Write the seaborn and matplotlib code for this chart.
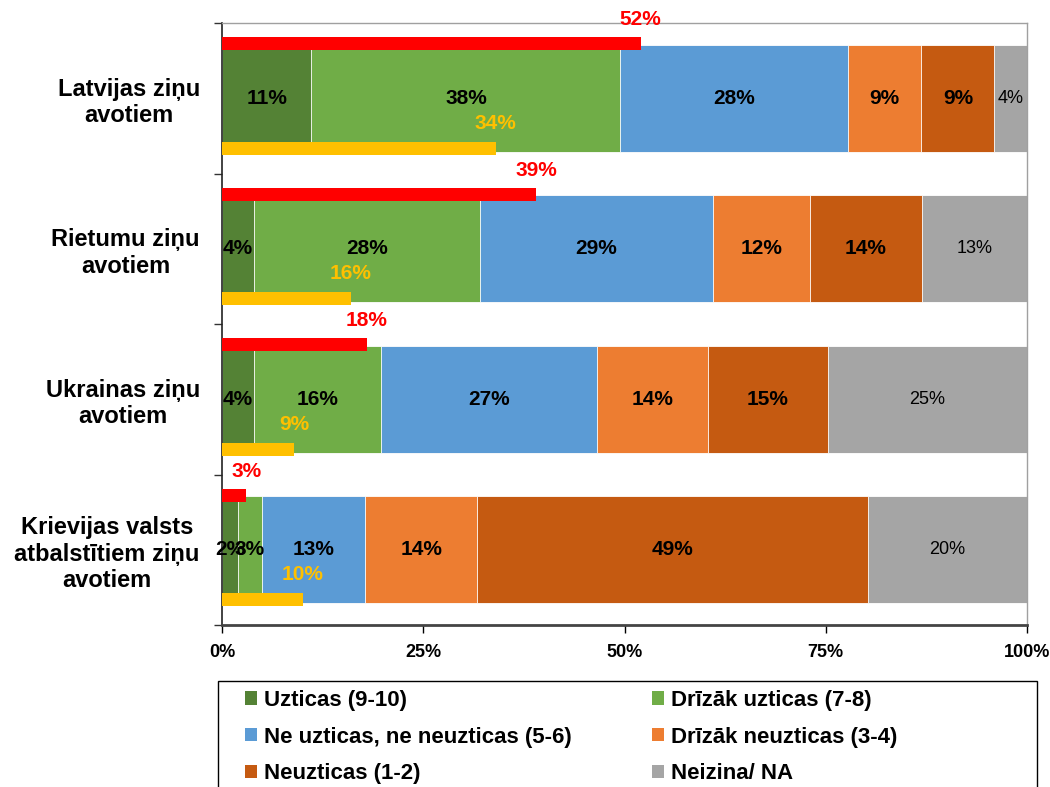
import numpy as np
import pandas as pd
import seaborn as sns
import matplotlib.pyplot as plt
from matplotlib.patches import Patch, Rectangle

# Data (percent)
sources = ["Latvijas ziņu\navotiem", "Rietumu ziņu\navotiem",
           "Ukrainas ziņu\navotiem", "Krievijas valsts\natbalstītiem ziņu\navotiem"]
levels = ["Uzticas (9-10)", "Drīzāk uzticas (7-8)", "Ne uzticas, ne neuzticas (5-6)",
          "Drīzāk neuzticas (3-4)", "Neuzticas (1-2)", "Neizina/ NA"]
trust_9_10 = [11, 4, 4, 2]
trust_7_8 = [38, 28, 16, 3]
neutral_5_6 = [28, 29, 27, 13]
distrust_3_4 = [9, 12, 14, 14]
distrust_1_2 = [9, 14, 15, 49]
dont_know = [4, 13, 25, 20]
red_values = [52, 39, 18, 3]
yellow_values = [34, 16, 9, 10]

colors = ["#548235", "#70AD47", "#5B9BD5", "#ED7D31", "#C55A11", "#A5A5A5"]

sns.set_style("white")
plt.rcParams["font.family"] = ["Liberation Sans", "DejaVu Sans"]
plt.rcParams["text.color"] = "black"
plt.rcParams["xtick.color"] = "black"
plt.rcParams["ytick.color"] = "black"

df = pd.DataFrame({"source": sources})
for name, vals in zip(levels, [trust_9_10, trust_7_8, neutral_5_6, distrust_3_4, distrust_1_2, dont_know]):
    df[name] = vals
shares = df[levels].div(df[levels].sum(axis=1), axis=0) * 100
cum = shares.cumsum(axis=1)
for lv in levels:
    df["cum_" + lv] = cum[lv]

fig = plt.figure(figsize=(10.5, 7.87), dpi=100)
ax = fig.add_axes([222 / 1050, 1 - 625 / 787, (1027 - 222) / 1050, (625 - 23) / 787])

# stacked bars: draw cumulative totals from the right end backwards
for lv, c in reversed(list(zip(levels, colors))):
    sns.barplot(data=df, x="cum_" + lv, y="source", order=sources, orient="h",
                color=c, saturation=1, width=0.71, edgecolor="white", linewidth=0.6, ax=ax)

pos = np.arange(len(sources))
ax.barh(pos - 0.362, red_values, height=0.086, color="#FF0000", linewidth=0, zorder=3)
ax.barh(pos + 0.332, yellow_values, height=0.086, color="#FFC000", linewidth=0, zorder=3)

# segment labels
for i in range(len(sources)):
    for j, lv in enumerate(levels):
        mid = cum.iloc[i, j] - shares.iloc[i, j] / 2
        val = df[lv].iloc[i]
        if j == len(levels) - 1:
            ax.text(mid, i, f"{val}%", ha="center", va="center", fontsize=13, color="black")
        else:
            ax.text(mid, i, f"{val}%", ha="center", va="center", fontsize=15,
                    fontweight="bold", color="black")
    ax.text(red_values[i], i - 0.52, f"{red_values[i]}%", ha="center", va="center",
            fontsize=15, fontweight="bold", color="#FF0000", clip_on=False, zorder=4)
    ax.text(yellow_values[i], i + 0.166, f"{yellow_values[i]}%", ha="center", va="center",
            fontsize=15, fontweight="bold", color="#FFC000", zorder=4)

ax.set_xlim(0, 100)
ax.set_ylim(3.5, -0.5)
ax.set_xlabel("")
ax.set_ylabel("")
ax.set_xticks([0, 25, 50, 75, 100])
ax.set_xticklabels(["0%", "25%", "50%", "75%", "100%"], fontsize=13, fontweight="bold")
ax.tick_params(axis="x", direction="out", length=6, width=1, pad=8, bottom=True)
ax.set_yticks(pos)
ax.set_yticklabels(sources, fontsize=17, fontweight="bold")
for t in ax.get_yticklabels():
    t.set_multialignment("center")
ax.tick_params(axis="y", length=0, pad=16)
ax.set_yticks([-0.5, 0.5, 1.5, 2.5, 3.5], minor=True)
ax.tick_params(axis="y", which="minor", direction="out", length=6, width=1, left=True, color="#333333")

for s in ["top", "right"]:
    ax.spines[s].set_color("#A0A0A0")
    ax.spines[s].set_linewidth(1)
ax.spines["left"].set_color("#222222")
ax.spines["left"].set_linewidth(1.2)
ax.spines["bottom"].set_color("#444444")
ax.spines["bottom"].set_linewidth(2)

# legend, filled row-wise
order = [0, 2, 4, 1, 3, 5]
handles = [Patch(facecolor=colors[k], edgecolor="none") for k in order]
labels = [levels[k] for k in order]
fig.legend(handles, labels, ncol=2, loc="upper left", bbox_to_anchor=(245 / 1050, 1 - 690 / 787),
           frameon=False, borderpad=0, borderaxespad=0, prop={"size": 16, "weight": "bold"},
           handlelength=0.55, handleheight=0.55, handletextpad=0.3, labelspacing=0.7,
           columnspacing=3.6)
fig.add_artist(Rectangle((218 / 1050, -0.02), (1037 - 218) / 1050, (787 - 681) / 787 + 0.02,
                         transform=fig.transFigure, fill=False, edgecolor="black", lw=1))

fig.savefig("out.png", dpi=100)
